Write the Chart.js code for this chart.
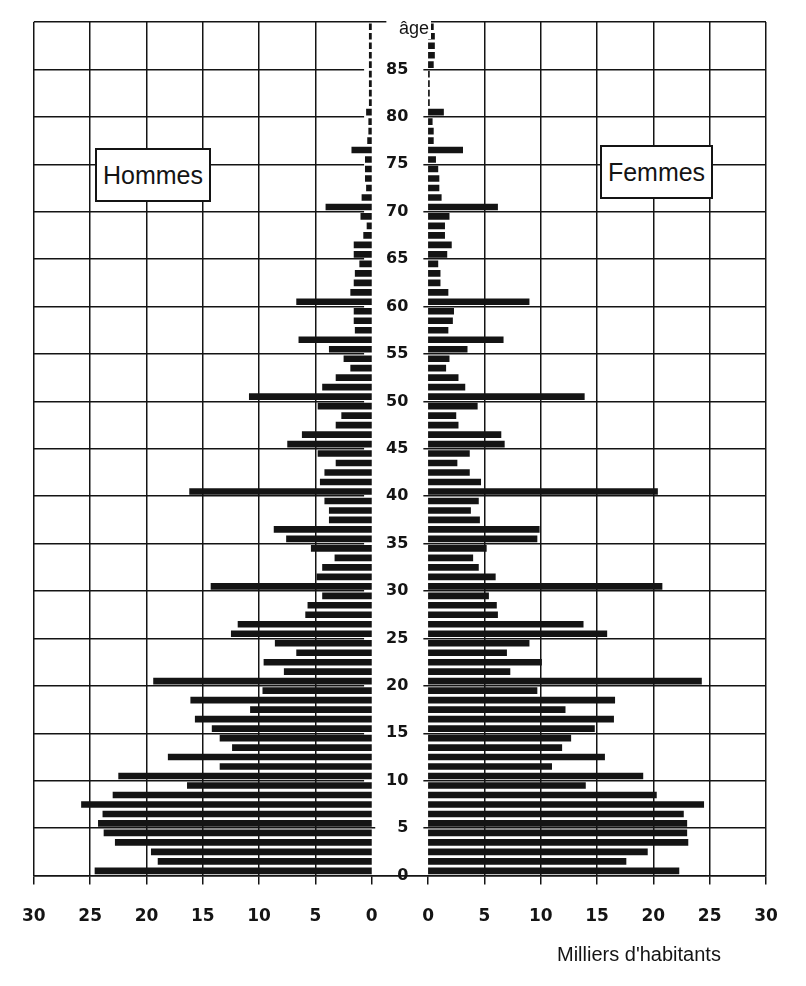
<!DOCTYPE html>
<html><head><meta charset="utf-8">
<script src="https://cdn.jsdelivr.net/npm/chart.js@4.4.1/dist/chart.umd.min.js"></script>
<style>
html,body{margin:0;padding:0;background:#fff;}
#wrap{position:relative;width:806px;height:986px;overflow:hidden;}
canvas{position:absolute;left:0;top:0;}
.box{position:absolute;background:#fff;border:2px solid #141414;font-family:"Liberation Sans",Arial,sans-serif;font-size:25px;color:#141414;display:flex;align-items:center;justify-content:center;box-sizing:border-box;}
.lbl{position:absolute;font-family:"Liberation Sans",Arial,sans-serif;color:#141414;white-space:nowrap;line-height:1.1;}
</style></head><body>
<div id="wrap">
<canvas id="c" width="806" height="986"></canvas>
<div class="box" style="left:95px;top:148px;width:116px;height:54px;">Hommes</div>
<div class="box" style="left:600px;top:145px;width:113px;height:54px;">Femmes</div>
<div class="lbl" style="left:397px;top:19px;font-size:18px;background:#fff;padding:0 2px;">âge</div>
<div class="lbl" style="left:557px;top:943px;font-size:20px;">Milliers d'habitants</div>
</div>
<script>
// Age categories (years)
const ages = Array.from({length: 90}, (_, i) => i);
// Population in thousands, by single year of age (0..89)
const hommes = [
  24.6, 19.0, 19.6, 22.8, 23.8, 24.3, 23.9, 25.8, 23.0, 16.4,
  22.5, 13.5, 18.1, 12.4, 13.5, 14.2, 15.7, 10.8, 16.1, 9.7,
  19.4, 7.8, 9.6, 6.7, 8.6, 12.5, 11.9, 5.9, 5.7, 4.4,
  14.3, 4.9, 4.4, 3.3, 5.4, 7.6, 8.7, 3.8, 3.8, 4.2,
  16.2, 4.6, 4.2, 3.2, 4.8, 7.5, 6.2, 3.2, 2.7, 4.8,
  10.9, 4.4, 3.2, 1.9, 2.5, 3.8, 6.5, 1.5, 1.6, 1.6,
  6.7, 1.9, 1.6, 1.5, 1.1, 1.6, 1.6, 0.75, 0.45, 1.0,
  4.1, 0.9, 0.5, 0.6, 0.6, 0.6, 1.8, 0.4, 0.3, 0.3,
  0.5, 0.25, 0.25, 0.25, 0.25, 0.25, 0.25, 0.25, 0.25, 0.25
];
const femmes = [
  22.3, 17.6, 19.5, 23.1, 23.0, 23.0, 22.7, 24.5, 20.3, 14.0,
  19.1, 11.0, 15.7, 11.9, 12.7, 14.8, 16.5, 12.2, 16.6, 9.7,
  24.3, 7.3, 10.1, 7.0, 9.0, 15.9, 13.8, 6.2, 6.1, 5.4,
  20.8, 6.0, 4.5, 4.0, 5.2, 9.7, 9.9, 4.6, 3.8, 4.5,
  20.4, 4.7, 3.7, 2.6, 3.7, 6.8, 6.5, 2.7, 2.5, 4.4,
  13.9, 3.3, 2.7, 1.6, 1.9, 3.5, 6.7, 1.8, 2.2, 2.3,
  9.0, 1.8, 1.1, 1.1, 0.9, 1.7, 2.1, 1.5, 1.5, 1.9,
  6.2, 1.2, 1.0, 1.0, 0.9, 0.7, 3.1, 0.5, 0.5, 0.4,
  1.4, 0.15, 0.15, 0.15, 0.15, 0.5, 0.6, 0.6, 0.6, 0.5
];
// Tick labels
const xTickLabels = [0, 5, 10, 15, 20, 25, 30];
const ageTickLabels = [0, 5, 10, 15, 20, 25, 30, 35, 40, 45, 50, 55, 60, 65, 70, 75, 80, 85];
const AGE_TOP = 90;
const XMAX = 30;
const GAP = 2.5; // half-width of the central gap, in axis units

const maleData = ages.map((a, i) => ({x: [-(GAP + hommes[i]), -GAP], y: a + 0.5}));
const femaleData = ages.map((a, i) => ({x: [GAP, GAP + femmes[i]], y: a + 0.5}));
const xTickValues = xTickLabels.slice().reverse().map(t => -(t + GAP)).concat(xTickLabels.map(t => t + GAP));
const ink = '#141414';
const clear = 'rgba(0,0,0,0)';

new Chart(document.getElementById('c'), {
  type: 'bar',
  data: {
    datasets: [
      {label: 'Hommes', data: maleData, backgroundColor: ink, borderWidth: 0, grouped: false, barPercentage: 0.7, categoryPercentage: 1},
      {label: 'Femmes', data: femaleData, backgroundColor: ink, borderWidth: 0, grouped: false, barPercentage: 0.7, categoryPercentage: 1}
    ]
  },
  options: {
    indexAxis: 'y',
    responsive: false,
    animation: false,
    devicePixelRatio: 1,
    layout: {padding: {left: 31, right: 40, top: 22, bottom: 37}},
    plugins: {legend: {display: false}, tooltip: {enabled: false}, title: {display: false}},
    scales: {
      x: {
        type: 'linear', position: 'bottom',
        min: -(XMAX + GAP), max: XMAX + GAP,
        afterBuildTicks: s => { s.ticks = xTickValues.map(v => ({value: v})); },
        grid: {
          color: c => (c.tick && Math.abs(c.tick.value) === GAP) ? clear : ink,
          tickColor: ink, lineWidth: 1.5, tickLength: 9, drawTicks: true
        },
        border: {display: true, color: ink, width: 1.5},
        ticks: {
          callback: v => String(Math.round(Math.abs(v) - GAP)),
          color: ink, font: {family: 'DejaVu Sans', weight: 'bold', size: 17},
          padding: 22, maxRotation: 0, autoSkip: false
        }
      },
      y: {
        type: 'linear', position: {x: 0.75},
        min: 0, max: AGE_TOP, offset: false,
        afterBuildTicks: s => { s.ticks = ageTickLabels.concat([AGE_TOP]).map(v => ({value: v})); },
        grid: {offset: false, color: ink, lineWidth: 1.5, drawTicks: false},
        border: {display: false},
        ticks: {
          callback: v => (v === AGE_TOP ? '' : String(v)),
          color: ink, font: {family: 'DejaVu Sans', weight: 'bold', size: 16},
          padding: 0, autoSkip: false,
          showLabelBackdrop: true,
          backdropColor: c => (c.tick && c.tick.value === 0) ? clear : '#fff',
          backdropPadding: {top: 0, bottom: 0, left: 22, right: 15}
        }
      }
    }
  }
});
</script>
</body></html>
